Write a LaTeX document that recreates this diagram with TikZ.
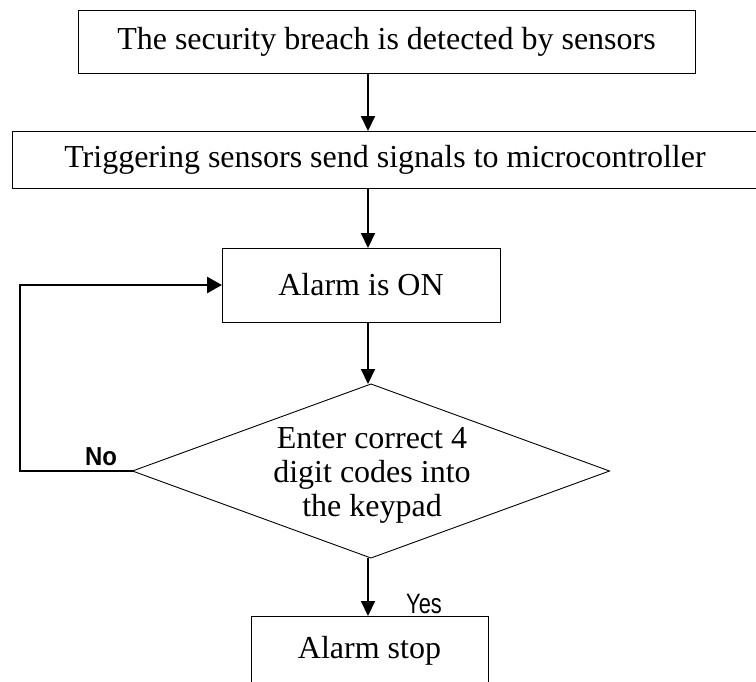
\documentclass[tikz,border=0pt]{standalone}
\usepackage{fontspec}
\setmainfont{Liberation Serif}
\newfontfamily\labelfont{Liberation Sans}
\usetikzlibrary{arrows.meta,shapes.geometric}

\tikzset{
  stepbox/.style={draw=black, line width=1pt, rectangle, inner sep=0pt, outer sep=0pt,
    font=\fontsize{32}{34}\selectfont},
  decision/.style={draw=black, line width=0.9pt, diamond, inner sep=0pt, outer sep=0pt,
    minimum width=477pt, minimum height=174pt},
  flow/.style={line width=2pt, -{Triangle[width=14pt,length=15pt]}},
  loopback/.style={line width=2.6pt, -{Triangle[width=16pt,length=15pt]}},
  answer/.style={inner sep=0pt, anchor=base}
}

\begin{document}
\begin{tikzpicture}[x=1pt, y=-1pt]
  \useasboundingbox (0,0) rectangle (756,681);
  \clip (0,0) rectangle (756,681);
  \fill[white] (0,0) rectangle (756,681);

  % process boxes
  \node[stepbox, minimum width=617pt, minimum height=63pt] (b1) at (386.5,41.5)
    {The security breach is detected by sensors};
  \node[stepbox, minimum width=746pt, minimum height=57pt] (b2) at (385,159.5)
    {Triggering sensors send signals to microcontroller};
  \node[stepbox, minimum width=278pt, minimum height=74pt] (b3) at (361,285)
    {Alarm is ON};
  \node[decision] (d) at (371,471) {};
  \node[font=\fontsize{32}{34}\selectfont, align=center, inner sep=0pt] (dt) at (372,475)
    {Enter correct 4\\digit codes into\\the keypad};
  \node[stepbox, minimum width=237pt, minimum height=70pt] (b4) at (369.5,651)
    {Alarm stop};

  % main column of the flow
  \coordinate (col) at (368,0);
  \coordinate (lp) at (20,471);

  \draw[flow] (b1.south -| col) -- (b2.north -| col);
  \draw[flow] (b2.south -| col) -- (b3.north -| col);
  \draw[flow] (b3.south -| col) -- (d.north -| col);
  \draw[flow] (d.south -| col) -- (b4.north -| col);

  % retry loop
  \draw[loopback] (d.west) -- (lp) |- (b3.west);

  % branch labels
  \node[answer] (no) at (101,465)
    {\labelfont\bfseries\fontsize{26}{26}\selectfont\scalebox{0.92}[1]{No}};
  \node[answer] (yes) at (424,613)
    {\labelfont\fontsize{28}{28}\selectfont\scalebox{0.78}[1]{Yes}};
\end{tikzpicture}
\end{document}
